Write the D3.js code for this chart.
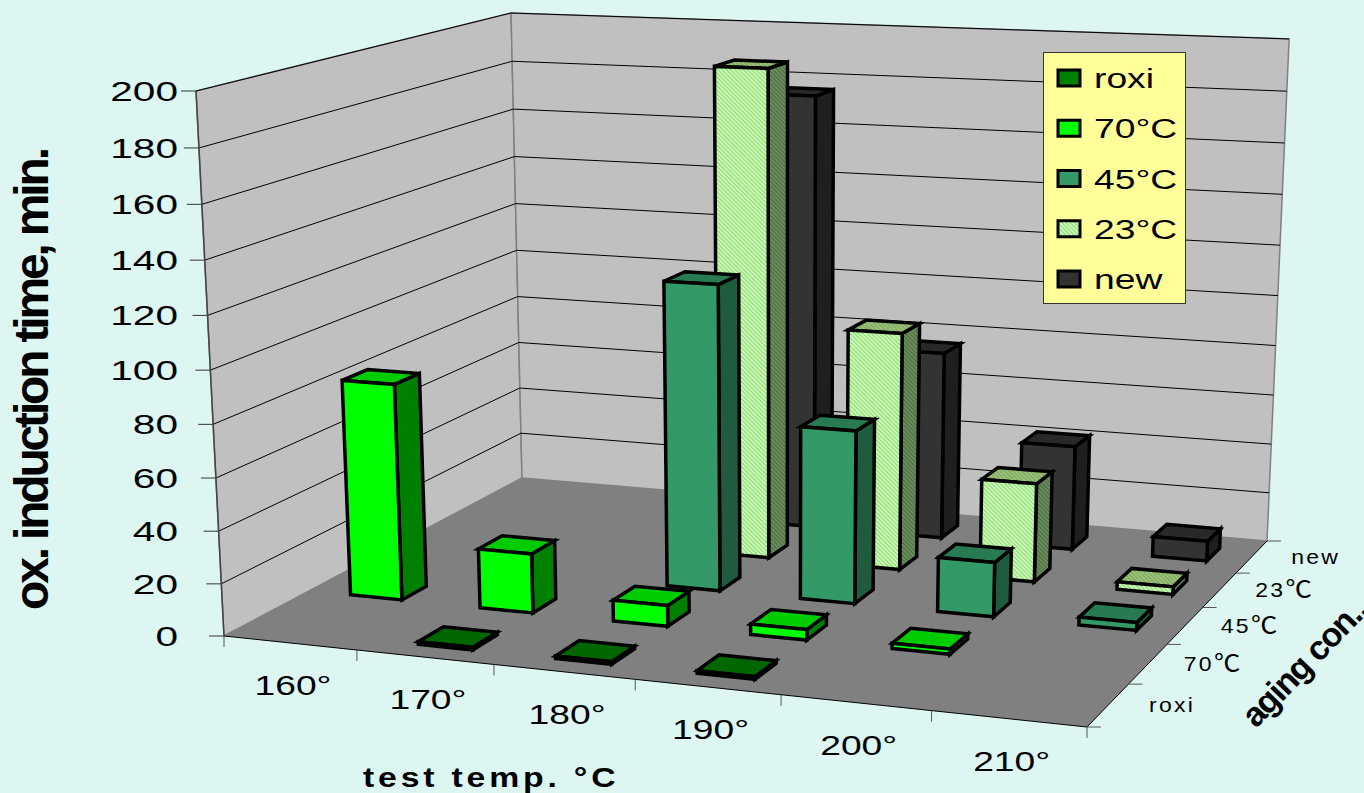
<!DOCTYPE html>
<html>
<head>
<meta charset="utf-8">
<script src="https://cdn.jsdelivr.net/npm/d3@7"></script>
<style>
  html, body { margin: 0; padding: 0; background: #DEF6F2; overflow: hidden; }
  text { font-family: "Liberation Sans", "Noto Sans CJK SC", sans-serif; fill: #000; }
</style>
</head>
<body>
<div id="chart"></div>
<script>
const temps = ['160°', '170°', '180°', '190°', '200°', '210°'];
const series = ['roxi', '70°C', '45°C', '23°C', 'new'];
const seriesTicks = ['roxi', '70℃', '45℃', '23℃', 'new'];

const roxi = [null, 1, 1, 1, null, null];
const aged70 = [84, 23, 8, 4, 2, null];
const aged45 = [null, null, 119, 67, 21, 3];
const aged23 = [null, null, 193, 94, 39, 3];
const fresh = [null, null, 176, 76, 42, 8];
const seriesValues = [roxi, aged70, aged45, aged23, fresh];

const colors = {
  roxi: { front: '#008000', top: '#006600', side: '#004d00' },
  '70°C': { front: '#00FF00', top: '#00CC00', side: '#008000' },
  '45°C': { front: '#339966', top: '#287A52', side: '#1F5C3E' },
  '23°C': { front: 'url(#hatchFront)', top: 'url(#hatchTop)', side: 'url(#hatchSide)' },
  new: { front: '#333333', top: '#292929', side: '#1F1F1F' }
};

const width = 1364;
const height = 793;

// corners of the box as seen in the picture
const floorFL = [224, 636];
const floorFR = [1087, 727];
const floorBR = [1267, 541];
const floorBL = [522, 478];
const topFL = [196, 91];
// the uprights of the box meet far below the picture
const vanish = [783, 11525];

// perspective matrix, unit box -> pixels
function makeProjection() {
  const sx = floorFL[0] - floorFR[0] + floorBR[0] - floorBL[0];
  const sy = floorFL[1] - floorFR[1] + floorBR[1] - floorBL[1];
  const dx1 = floorFR[0] - floorBR[0];
  const dx2 = floorBL[0] - floorBR[0];
  const dy1 = floorFR[1] - floorBR[1];
  const dy2 = floorBL[1] - floorBR[1];
  const det = dx1 * dy2 - dx2 * dy1;
  const g = (sx * dy2 - dx2 * sy) / det;
  const h = (dx1 * sy - sx * dy1) / det;
  const a = floorFR[0] - floorFL[0] + g * floorFR[0];
  const b = floorBL[0] - floorFL[0] + h * floorBL[0];
  const d = floorFR[1] - floorFL[1] + g * floorFR[1];
  const e = floorBL[1] - floorFL[1] + h * floorBL[1];
  const c = floorFL[0];
  const f = floorFL[1];
  const k = (topFL[1] - floorFL[1]) / (vanish[1] - topFL[1]);
  return (u, v, w) => {
    const q = g * u + h * v + k * w + 1;
    return [
      (a * u + b * v + vanish[0] * k * w + c) / q,
      (d * u + e * v + vanish[1] * k * w + f) / q
    ];
  };
}
const project = makeProjection();

const uScale = d3.scaleBand().domain(temps).range([0, 1]).paddingInner(0.6).paddingOuter(0.3).align(0.54);
const vScale = d3.scaleBand().domain(series).range([0, 1]).paddingInner(0.6).paddingOuter(0.3).align(0.45);
const wScale = d3.scaleLinear().domain([0, 200]).range([0, 1]);

const svg = d3.select('#chart').append('svg')
  .attr('width', width)
  .attr('height', height)
  .style('display', 'block');

const defs = svg.append('defs');
function addHatch(id, base, line) {
  const p = defs.append('pattern')
    .attr('id', id)
    .attr('width', 3)
    .attr('height', 3)
    .attr('patternUnits', 'userSpaceOnUse')
    .attr('patternTransform', 'rotate(45)');
  p.append('rect').attr('width', 3).attr('height', 3).attr('fill', base);
  p.append('rect').attr('width', 3).attr('height', 1.3).attr('fill', line);
}
addHatch('hatchFront', '#CCFFCC', '#99D966');
addHatch('hatchTop', '#9CC47E', '#7FA85C');
addHatch('hatchSide', '#6E9060', '#4E7040');

const pathOf = (pts) => `M${pts.map((p) => p.join(',')).join('L')}Z`;
const px = (u, v, w) => project(u, v, w);

// walls and floor
const box = svg.append('g');
box.append('path')
  .attr('d', pathOf([px(0, 0, 0), px(0, 1, 0), px(0, 1, 1), px(0, 0, 1)]))
  .attr('fill', '#C0C0C0')
  .attr('stroke', '#808080')
  .attr('stroke-width', 1.5);
box.append('path')
  .attr('d', pathOf([px(0, 1, 0), px(1, 1, 0), px(1, 1, 1), px(0, 1, 1)]))
  .attr('fill', '#C0C0C0')
  .attr('stroke', '#808080')
  .attr('stroke-width', 1.5);
box.append('path')
  .attr('d', pathOf([px(0, 0, 0), px(1, 0, 0), px(1, 1, 0), px(0, 1, 0)]))
  .attr('fill', '#808080');

const line = (a, b) => box.append('line')
  .attr('x1', a[0]).attr('y1', a[1])
  .attr('x2', b[0]).attr('y2', b[1])
  .attr('stroke', '#000')
  .attr('stroke-width', 1);

// value gridlines and ticks
const yTicks = wScale.ticks(10);
yTicks.forEach((t) => {
  const w = wScale(t);
  const front = px(0, 0, w);
  if (t > 0) {
    line(front, px(0, 1, w));
    line(px(0, 1, w), px(1, 1, w));
  }
  line([front[0] - 15, front[1]], front).attr('stroke', '#333');
});

// floor edges and their ticks
line(px(0, 0, 0), px(1, 0, 0));
line(px(1, 0, 0), px(1, 1, 0));
line(px(0, 0, 0), px(0, 0, 1)).attr('stroke', '#444').attr('stroke-width', 1.5);
d3.range(temps.length + 1).forEach((i) => {
  const p = px(i / temps.length, 0, 0);
  line(p, [p[0], p[1] + 11]).attr('stroke', '#555');
});
d3.range(series.length + 1).forEach((i) => {
  const p = px(1, i / series.length, 0);
  line(p, [p[0] + 14, p[1]]).attr('stroke', '#555');
});

// bars, back row first
const bars = series.flatMap((s, i) => temps.map((t, j) => ({ s, t, value: seriesValues[i][j], row: i })))
  .filter((d) => d.value !== null)
  .sort((a, b) => d3.descending(a.row, b.row));

const barG = svg.append('g').selectAll('g').data(bars).join('g')
  .attr('stroke', '#000')
  .attr('stroke-width', 3.5)
  .attr('stroke-linejoin', 'miter');

function face(d, name) {
  const u0 = uScale(d.t);
  const u1 = u0 + uScale.bandwidth();
  const v0 = vScale(d.s);
  const v1 = v0 + vScale.bandwidth();
  const w = wScale(d.value);
  if (name === 'side') return pathOf([px(u1, v0, 0), px(u1, v1, 0), px(u1, v1, w), px(u1, v0, w)]);
  if (name === 'top') return pathOf([px(u0, v0, w), px(u1, v0, w), px(u1, v1, w), px(u0, v1, w)]);
  return pathOf([px(u0, v0, 0), px(u1, v0, 0), px(u1, v0, w), px(u0, v0, w)]);
}
['side', 'top', 'front'].forEach((name) => {
  barG.append('path')
    .attr('d', (d) => face(d, name))
    .attr('fill', (d) => colors[d.s][name]);
});

// text is stretched sideways in the original picture
function stretched(x, y, str, size, anchor, sx = 1.3) {
  return svg.append('text')
    .attr('transform', `translate(${x},${y}) scale(${sx},1)`)
    .attr('text-anchor', anchor)
    .attr('font-size', size)
    .text(str);
}

yTicks.forEach((t) => {
  const p = px(0, 0, wScale(t));
  stretched(178, p[1] + 10, t, 28, 'end', 1.45);
});

temps.forEach((t) => {
  const p = px((temps.indexOf(t) + 0.5) / temps.length, 0, 0);
  stretched(p[0] + 3, p[1] + 52, t, 28, 'middle', 1.33);
});

seriesTicks.forEach((t, i) => {
  const p = px(1, (i + 0.5) / series.length, 0);
  const label = svg.append('text')
    .attr('transform', `translate(${p[0] + 64},${p[1] + 7}) scale(1.15,1)`)
    .attr('text-anchor', 'middle')
    .attr('font-size', 20)
    .attr('letter-spacing', 2);
  const m = t.match(/^(\d+)(℃)$/);
  if (m) {
    label.append('tspan').text(m[1]);
    label.append('tspan')
      .attr('font-family', '"Noto Sans CJK SC"')
      .attr('font-size', 23)
      .attr('letter-spacing', 0)
      .text(m[2]);
  } else {
    label.text(t);
  }
});

svg.append('text')
  .attr('transform', 'translate(48,610) rotate(-90)')
  .attr('font-size', 48)
  .attr('font-weight', 'bold')
  .attr('textLength', 463)
  .attr('lengthAdjust', 'spacing')
  .text('ox. induction time, min.');

svg.append('text')
  .attr('transform', 'translate(363,787) scale(1.25,1)')
  .attr('font-size', 27)
  .attr('font-weight', 'bold')
  .attr('textLength', 202)
  .attr('lengthAdjust', 'spacing')
  .text('test temp. °C');

svg.append('text')
  .attr('transform', 'translate(1256,729) rotate(-46)')
  .attr('font-size', 34)
  .attr('font-weight', 'bold')
  .attr('textLength', 172)
  .attr('lengthAdjust', 'spacing')
  .text('aging con...');

// legend
const legend = svg.append('g');
legend.append('rect')
  .attr('x', 1043.5)
  .attr('y', 52.5)
  .attr('width', 142)
  .attr('height', 251)
  .attr('fill', '#FFFF99')
  .attr('stroke', '#333')
  .attr('stroke-width', 1);
const legendY = d3.scalePoint().domain(series).range([78, 279]);
series.forEach((s) => {
  const y = legendY(s);
  legend.append('rect')
    .attr('x', 1058)
    .attr('y', y - 8)
    .attr('width', 22)
    .attr('height', 16)
    .attr('fill', colors[s].front)
    .attr('stroke', '#000')
    .attr('stroke-width', 3);
  stretched(1094, y + 10, s, 28, 'start', 1.33);
});
</script>
</body>
</html>
